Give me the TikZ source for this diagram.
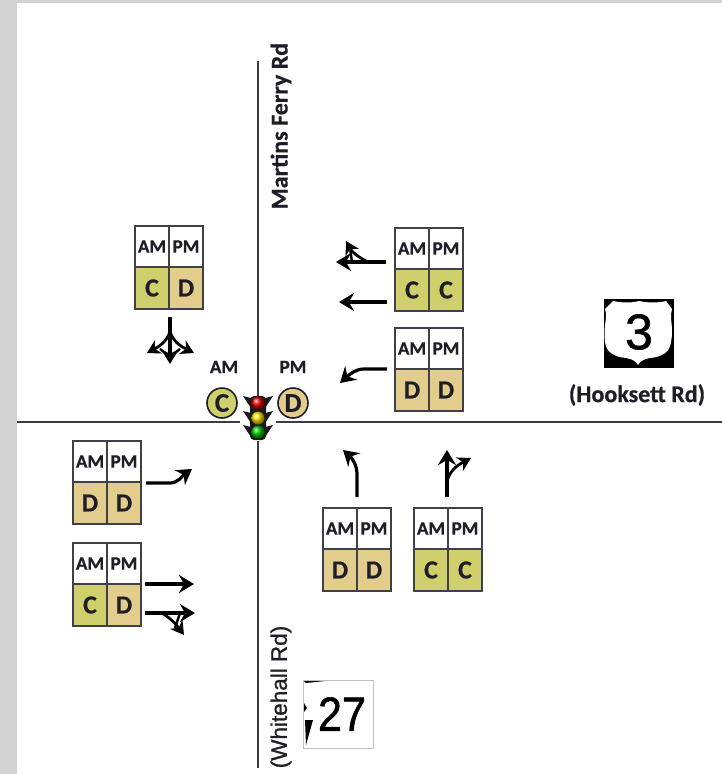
\documentclass[tikz,border=0pt]{standalone}
\usepackage{fontspec}
\setmainfont{Carlito}[BoldFeatures={FakeBold=0.6}]
\newfontfamily\signfont[FakeBold=1.2]{Liberation Sans}
\newfontfamily\whitefont[FakeBold=1]{Liberation Sans}
\usetikzlibrary{arrows.meta}
\definecolor{pagegray}{HTML}{D2D2D2}
\definecolor{roadgray}{HTML}{3C3C3C}
\definecolor{cellC}{HTML}{CFCF6C}
\definecolor{cellD}{HTML}{E3CD8C}
\definecolor{inkdark}{HTML}{1E1E28}
\definecolor{lightbody}{HTML}{1A1A1A}
\tikzset{
  x=1pt,y=-1pt,
  road/.style={draw=roadgray,line width=1.6pt},
  cell/.style={draw=inkdark!85,line width=1.2pt,minimum width=34pt,inner sep=0pt,outer sep=0pt,anchor=center,font=\bfseries,text=inkdark},
  headcell/.style={cell,fill=white,minimum height=41pt,font=\bfseries\fontsize{19}{19}\selectfont},
  gradecell/.style={cell,minimum height=42pt,font=\bfseries\fontsize{26}{26}\selectfont},
  move/.style={draw=black,line width=3.2pt,-{Stealth[length=15pt,width=18pt,inset=5pt]}},
  thinmove/.style={draw=black,line width=2.8pt,-{Stealth[length=13pt,width=15pt,inset=4pt]}},
  label/.style={font=\bfseries\fontsize{19}{19}\selectfont,text=inkdark,inner sep=0pt},
  roadname/.style={label,font=\bfseries\fontsize{24}{24}\selectfont},
  circlegrade/.style={circle,draw=inkdark,line width=1.6pt,minimum size=30pt,inner sep=0pt,font=\bfseries\fontsize{27}{27}\selectfont,text=inkdark},
}
\newcommand{\gradebox}[6]{% name, cx, midy, colourA, gradeA, gradeB
  \node[headcell] (#1am) at (#2-17,#3-20.5) {AM};
  \node[headcell] (#1pm) at (#2+17,#3-20.5) {PM};
  \node[gradecell,fill=cell#4,text=inkdark] (#1a) at (#2-17,#3+21) {#4};
  \node[gradecell,fill=cell#6] (#1b) at (#2+17,#3+21) {#6};
}
\begin{document}
\begin{tikzpicture}
\useasboundingbox (0,0) rectangle (722,774);
\fill[pagegray] (0,0) rectangle (722,774);
\fill[white] (17,3) rectangle (722,774);

% roads
\coordinate (nEnd) at (258,61);
\coordinate (sEnd) at (258,768);
\coordinate (wEnd) at (17,422);
\coordinate (eEnd) at (722,422);
\draw[road] (nEnd) -- (sEnd);
\draw[road] (wEnd) -- (eEnd);

% road labels
\node[roadname,rotate=90] (martins) at (281,126) {Martins Ferry Rd};
\node[label,font=\whitefont\fontsize{22.5}{22.5}\selectfont,rotate=90] (whitehall) at (281,697) {(Whitehall Rd)};
\node[roadname] (hooksett) at (637,395) {(Hooksett Rd)};

% signal phases
\node[label] (amTop) at (224,367) {AM};
\node[label] (pmTop) at (293,367) {PM};
\node[circlegrade,fill=cellC] (cC) at (222,403) {C};
\node[circlegrade,fill=cellD] (cD) at (293,403) {D};

% traffic light
\fill[white] (240,394) rectangle (276,441);
\draw[road] (258,394) -- (258,396);
\foreach \yy in {403,418,432}{
  \fill[lightbody] (243,\yy-7) -- (251,\yy-5) -- (265,\yy-5) -- (273,\yy-7) -- (265,\yy+5) -- (251,\yy+5) -- cycle;
}
\fill[lightbody,rounded corners=4pt] (250,396) rectangle (266,440);
\shade[ball color=red!90!black] (258,403) circle (6.5pt);
\shade[ball color=yellow!80!orange] (258,418) circle (6.5pt);
\shade[ball color=green!80!black] (258,432) circle (6.5pt);

% grade boxes
\gradebox{nw}{169}{267}{C}{C}{D}
\gradebox{ea}{429}{269}{C}{C}{C}
\gradebox{eb}{429}{369}{D}{D}{D}
\gradebox{wa}{107}{482}{D}{D}{D}
\gradebox{wb}{107}{584}{C}{C}{D}
\gradebox{sa}{357}{549}{D}{D}{D}
\gradebox{sb}{448}{549}{C}{C}{C}

% movements: southbound
\coordinate (nw0) at (170,317);
\coordinate (nw1) at (170,364);
\coordinate (nw2) at (147,353);
\coordinate (nw3) at (194,353);
\draw[move] (nw0) -- (nw1);
\draw[thinmove] (170,332) .. controls (166,342) and (160,346) .. (nw2);
\draw[thinmove] (170,332) .. controls (174,342) and (180,346) .. (nw3);
\draw[black,line width=2.4pt] (160,349) -- (170,357) -- (180,349);

% westbound
\coordinate (ea0) at (386,262);
\coordinate (ea1) at (336,262);
\coordinate (ea2) at (346,241);
\draw[move] (ea0) -- (ea1);
\draw[thinmove] (368,262) .. controls (358,257) and (352,252) .. (ea2);
\draw[black,line width=2.4pt] (352,262) -- (350,248);
\coordinate (ea3) at (387,302);
\coordinate (ea4) at (339,302);
\draw[move] (ea3) -- (ea4);
\coordinate (eb0) at (387,369);
\coordinate (eb1) at (340,383);
\draw[move] (eb0) -- (364,369) .. controls (356,369) and (350,374) .. (eb1);

% eastbound
\coordinate (wa0) at (146,483);
\coordinate (wa1) at (192,469);
\draw[move] (wa0) -- (170,483) .. controls (178,483) and (182,476) .. (wa1);
\coordinate (wb0) at (145,584);
\coordinate (wb1) at (194,584);
\draw[move] (wb0) -- (wb1);
\coordinate (wb2) at (145,613);
\coordinate (wb3) at (195,613);
\coordinate (wb4) at (184,635);
\draw[move] (wb2) -- (wb3);
\draw[thinmove] (162,613) .. controls (170,618) and (176,624) .. (wb4);
\draw[black,line width=2.4pt] (180,613) -- (175,628);

% northbound
\coordinate (sa0) at (357,497);
\coordinate (sa1) at (343,450);
\draw[move] (sa0) -- (357,474) .. controls (357,465) and (352,458) .. (sa1);
\coordinate (sb0) at (447,497);
\coordinate (sb1) at (447,450);
\coordinate (sb2) at (471,458);
\draw[move] (sb0) -- (sb1);
\draw[thinmove] (447,481) .. controls (450,471) and (456,466) .. (sb2);

% route 3 shield
\fill[black] (604,299) rectangle (674,368);
\fill[white] (613,301) .. controls (622,303) and (632,303) .. (639,301)
  .. controls (648,303) and (658,303) .. (666,301) -- (672,309)
  .. controls (669,320) and (674,325) .. (671,342)
  .. controls (670,352) and (662,357) .. (650,358)
  .. controls (644,359) and (640,361) .. (638,365)
  .. controls (636,361) and (632,359) .. (626,358)
  .. controls (614,357) and (606,352) .. (605,342)
  .. controls (603,325) and (608,318) .. (605,309) -- cycle;
\node[font=\signfont\fontsize{50}{50}\selectfont,text=black,inner sep=0pt] (us3) at (639,332) {3};

% route 27 sign
\draw[gray!50,line width=0.7pt,fill=white] (303,680) rectangle (373,748);
\fill[black] (304,681) -- (325,681) -- (306,683) -- cycle;
\fill[black] (305,720) -- (313,720) -- (306,745) -- cycle;
\fill[black] (304,703) -- (307,708) -- (304,712) -- cycle;
\node[font=\signfont\fontsize{48}{48}\selectfont,text=black,inner sep=0pt,xscale=0.9] (rt27) at (342,714) {27};
\end{tikzpicture}
\end{document}
